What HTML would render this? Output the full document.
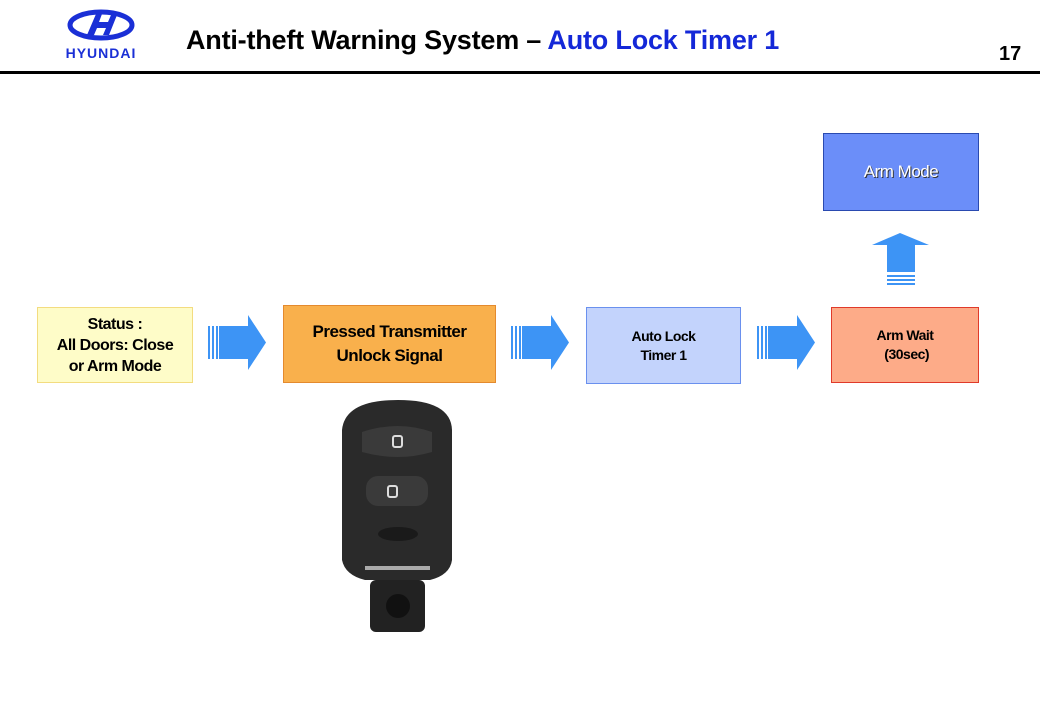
<!DOCTYPE html>
<html><head><meta charset="utf-8"><style>
body{margin:0;width:1040px;height:720px;background:#fff;overflow:hidden;position:relative;font-family:"Liberation Sans",Arial,sans-serif}
.b{position:absolute;box-sizing:border-box;display:flex;align-items:center;justify-content:center;text-align:center;font-weight:bold;color:#000;letter-spacing:-0.5px}
</style></head><body>
<svg width="1040" height="720" style="position:absolute;left:0;top:0">
<defs>
<g id="ha">
<rect x="0" y="11" width="2" height="33" fill="#3d94f5"/>
<rect x="4" y="11" width="2" height="33" fill="#3d94f5"/>
<rect x="8" y="11" width="2" height="33" fill="#3d94f5"/>
<polygon points="11,11 40,11 40,0 58,27.5 40,55 40,44 11,44" fill="#3d94f5"/>
</g>
</defs>
<ellipse cx="101" cy="25" rx="31" ry="13" fill="none" stroke="#1a2fd6" stroke-width="5"/>
<path d="M87 35 L96 14 L102 14 L99 22 L108 22 L111 15 L117 15 L109 35 L103 35 L106 28 L97 28 L94 35 Z" fill="#1a2fd6"/>
<text x="101" y="58" text-anchor="middle" font-family="Liberation Sans" font-weight="bold" font-size="14" fill="#1a2fd6" letter-spacing="1">HYUNDAI</text>
<rect x="0" y="71" width="1040" height="3" fill="#000"/>
<use href="#ha" x="208" y="315"/>
<use href="#ha" x="511" y="315"/>
<use href="#ha" x="757" y="315"/>
<polygon points="872,245 900,233 929,245 915,245 915,272 887,272 887,245" fill="#3d94f5"/>
<rect x="887" y="275" width="28" height="2" fill="#3d94f5"/>
<rect x="887" y="279" width="28" height="2" fill="#3d94f5"/>
<rect x="887" y="283" width="28" height="2" fill="#3d94f5"/>
<path d="M342 430 Q345 400 398 400 Q451 400 452 430 L452 560 Q450 575 430 580 L365 580 Q345 575 342 560 Z" fill="#2a2a2a"/>
<rect x="370" y="580" width="55" height="52" rx="6" fill="#222"/>
<circle cx="398" cy="606" r="12" fill="#111"/>
<rect x="365" y="566" width="65" height="4" fill="#aaa"/>
<path d="M362 432 Q398 420 432 432 L432 452 Q398 462 362 452 Z" fill="#3a3a3a"/>
<rect x="366" y="476" width="62" height="30" rx="12" fill="#3a3a3a"/>
<rect x="393" y="436" width="9" height="11" rx="2" fill="none" stroke="#ddd" stroke-width="2"/>
<rect x="388" y="486" width="9" height="11" rx="2" fill="none" stroke="#ddd" stroke-width="2"/>
<ellipse cx="398" cy="534" rx="20" ry="7" fill="#1a1a1a"/>
</svg>
<div style="position:absolute;left:186px;top:25px;font-size:27px;font-weight:bold;letter-spacing:-0.2px;white-space:nowrap">Anti-theft Warning System – <span style="color:#1428d8">Auto Lock Timer 1</span></div>
<div style="position:absolute;left:999px;top:43px;font-size:20px;font-weight:bold">17</div>
<div class="b" style="left:37px;top:307px;width:156px;height:76px;background:#fefcc8;border:1px solid #f3dc80;font-size:16px;line-height:21px">Status :<br>All Doors: Close<br>or Arm Mode</div>
<div class="b" style="left:283px;top:305px;width:213px;height:78px;background:#f9b04c;border:1px solid #e48a2e;font-size:17px;line-height:24px">Pressed Transmitter<br>Unlock Signal</div>
<div class="b" style="left:586px;top:307px;width:155px;height:77px;background:#c3d3fc;border:1px solid #6a90ee;font-size:14px;line-height:19px">Auto Lock<br>Timer 1</div>
<div class="b" style="left:831px;top:307px;width:148px;height:76px;background:#fdab88;border:1px solid #e03a2a;font-size:14px;line-height:19px">Arm Wait<br>&nbsp;(30sec)</div>
<div class="b" style="left:823px;top:133px;width:156px;height:78px;background:#6b8ef9;border:1px solid #2a4ab0;font-size:17px;color:#fff;font-weight:normal;text-shadow:1px 1px 0 #333">Arm Mode</div>
</body></html>
